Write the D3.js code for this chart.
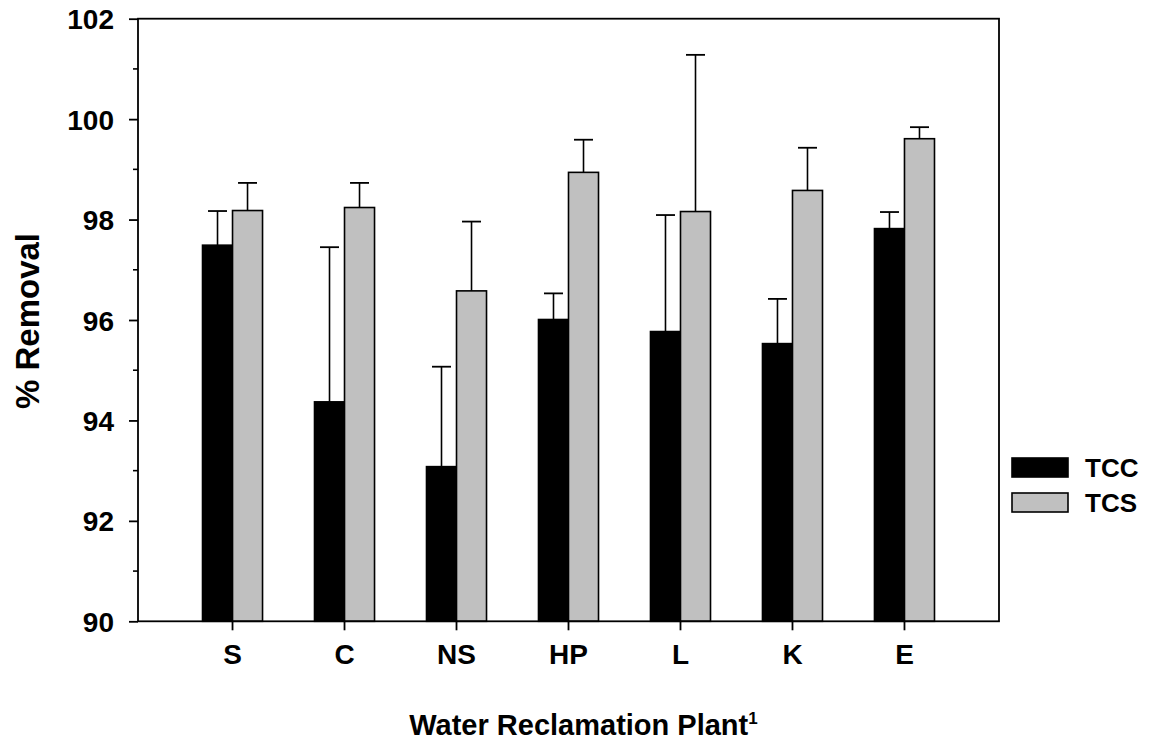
<!DOCTYPE html>
<html>
<head>
<meta charset="utf-8">
<script src="https://cdn.jsdelivr.net/npm/d3@7"></script>
<style>
  body { margin: 0; background: #fff; }
  svg { font-family: "Liberation Sans", Arial, sans-serif; font-weight: bold; }
</style>
</head>
<body>
<svg id="chart" width="1158" height="747"></svg>
<script>
const plants = ["S", "C", "NS", "HP", "L", "K", "E"];
const seriesNames = ["TCC", "TCS"];
const tccValues = [97.49, 94.37, 93.08, 96.01, 95.77, 95.53, 97.82];
const tccErrTop = [98.17, 97.45, 95.07, 96.53, 98.09, 96.42, 98.15];
const tcsValues = [98.18, 98.24, 96.58, 98.94, 98.16, 98.58, 99.61];
const tcsErrTop = [98.73, 98.73, 97.96, 99.59, 101.28, 99.43, 99.84];
const yTicks = [90, 92, 94, 96, 98, 100, 102];
const yMinorTicks = [91, 93, 95, 97, 99, 101];
const colors = { TCC: "#000000", TCS: "#c0c0c0" };

const margin = {top: 18.7, left: 138, right: 159, bottom: 125.7};
const W = 1158, H = 747;
const svg = d3.select("#chart");

const x0 = d3.scaleBand()
	.domain(plants)
	.range([margin.left, W - margin.right])
	.paddingInner(0.464)
	.paddingOuter(0.576);

const x1 = d3.scaleBand()
	.domain(seriesNames)
	.range([0, x0.bandwidth()]);

const y = d3.scaleLinear()
	.domain([90, 102])
	.range([H - margin.bottom, margin.top]);

const rows = plants.map((p, i) => ({
	plant: p,
	bars: [
		{ key: "TCC", value: tccValues[i], err: tccErrTop[i] },
		{ key: "TCS", value: tcsValues[i], err: tcsErrTop[i] }
	]
}));

// error bars first so the bar outline sits on top
const groups = svg.append("g").selectAll("g")
	.data(rows).enter().append("g")
	.attr("transform", d => "translate(" + x0(d.plant) + ",0)");

groups.selectAll("g.err")
	.data(d => d.bars).enter().append("g")
	.attr("class", "err")
	.each(function(d) {
		const cx = x1(d.key) + x1.bandwidth() / 2;
		const g = d3.select(this);
		g.append("line")
			.attr("x1", cx).attr("x2", cx)
			.attr("y1", y(d.value)).attr("y2", y(d.err))
			.attr("stroke", "#000").attr("stroke-width", 1.6);
		g.append("line")
			.attr("x1", cx - 9.5).attr("x2", cx + 9.5)
			.attr("y1", y(d.err)).attr("y2", y(d.err))
			.attr("stroke", "#000").attr("stroke-width", 1.8);
	});

groups.selectAll("rect")
	.data(d => d.bars).enter().append("rect")
	.attr("x", d => x1(d.key))
	.attr("y", d => y(d.value))
	.attr("width", x1.bandwidth())
	.attr("height", d => y(90) - y(d.value))
	.attr("fill", d => colors[d.key])
	.attr("stroke", "#000")
	.attr("stroke-width", 1.6);

// frame
svg.append("rect")
	.attr("x", margin.left)
	.attr("y", margin.top)
	.attr("width", W - margin.right - margin.left)
	.attr("height", H - margin.bottom - margin.top)
	.attr("fill", "none")
	.attr("stroke", "#000")
	.attr("stroke-width", 1.8);

// y axis
const yAxis = d3.axisLeft(y).tickValues(yTicks).tickSize(9).tickPadding(15).tickFormat(d3.format("d"));
const yg = svg.append("g")
	.attr("transform", "translate(" + margin.left + ",0)")
	.call(yAxis);
yg.select(".domain").remove();
yg.selectAll(".tick line").attr("stroke-width", 1.8);
yg.selectAll("text").style("font-size", "28px").style("font-weight", "bold").attr("fill", "#000").attr("dy", "0.36em");

svg.append("g").selectAll("line")
	.data(yMinorTicks).enter().append("line")
	.attr("x1", margin.left - 5).attr("x2", margin.left)
	.attr("y1", d => y(d)).attr("y2", d => y(d))
	.attr("stroke", "#000").attr("stroke-width", 1.6);

// x axis
const xAxis = d3.axisBottom(x0).tickSize(9).tickPadding(14);
const xg = svg.append("g")
	.attr("transform", "translate(0," + (H - margin.bottom) + ")")
	.call(xAxis);
xg.select(".domain").remove();
xg.selectAll(".tick line").attr("stroke-width", 1.8);
xg.selectAll("text").style("font-size", "28px").style("font-weight", "bold").attr("fill", "#000");

// axis titles
const xt = svg.append("text")
	.attr("x", (margin.left + W - margin.right) / 2 + 15)
	.attr("y", 735)
	.attr("text-anchor", "middle")
	.style("font-size", "29px");
xt.append("tspan").text("Water Reclamation Plant");
xt.append("tspan").text("1").style("font-size", "17px").attr("dy", "-11");

svg.append("text")
	.attr("transform", "translate(39," + ((margin.top + H - margin.bottom) / 2 + 1) + ") rotate(-90)")
	.attr("text-anchor", "middle")
	.style("font-size", "33px")
	.text("% Removal");

// legend
const legend = svg.append("g").selectAll("g")
	.data(seriesNames).enter().append("g")
	.attr("transform", (d, i) => "translate(1012," + (458 + i * 35) + ")");
legend.append("rect")
	.attr("width", 56).attr("height", 19)
	.attr("fill", d => colors[d])
	.attr("stroke", "#000").attr("stroke-width", 1.6);
legend.append("text")
	.attr("x", 73).attr("y", 19)
	.style("font-size", "26px")
	.text(d => d);
</script>
</body>
</html>
